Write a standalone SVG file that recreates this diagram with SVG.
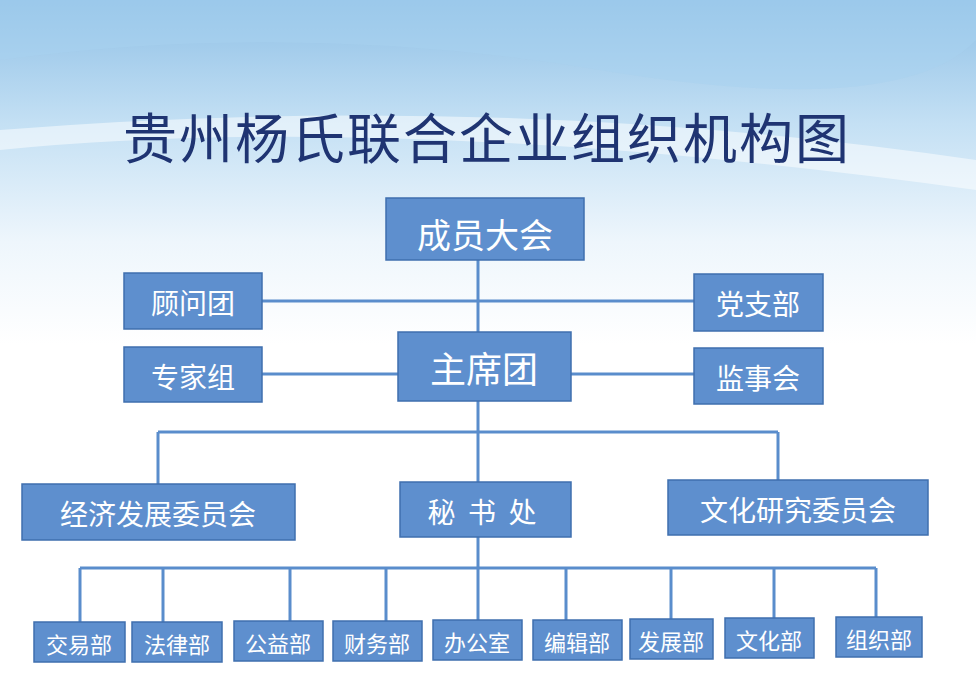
<svg xmlns="http://www.w3.org/2000/svg" width="976" height="690" viewBox="0 0 976 690">
<defs>
<linearGradient id="bg" x1="0" y1="0" x2="0" y2="1">
<stop offset="0" stop-color="#8fc0e6"/>
<stop offset="0.18" stop-color="#c4e0f4"/>
<stop offset="0.35" stop-color="#eef6fc"/>
<stop offset="0.5" stop-color="#ffffff"/>
<stop offset="1" stop-color="#ffffff"/>
</linearGradient>
<style>
.b{fill:#5e8fce;stroke:#3f6fae;stroke-width:1.5}
.t{fill:#fff;font-family:"Noto Sans CJK SC",sans-serif;text-anchor:middle;dominant-baseline:central}
.l{stroke:#5a8dcc;stroke-width:3;fill:none}
</style>
</defs>
<rect width="976" height="690" fill="url(#bg)"/>
<path d="M0 60 Q300 20 600 70 T976 40 L976 0 L0 0Z" fill="#a8d2f0" opacity="0.5"/>
<path d="M0 150 Q400 110 976 190 L976 160 Q500 90 0 130Z" fill="#ffffff" opacity="0.5"/>
<text x="487" y="135" font-family="Noto Sans CJK SC,sans-serif" font-size="54" letter-spacing="2" fill="#1f3472" text-anchor="middle" dominant-baseline="central">贵州杨氏联合企业组织机构图</text>
<g id="connectors" class="l">
<path d="M478 260V332M262 301H694M262 374H398M571 374H694M478 401V620M158 432H778M158 432V484M778 432V480M80 568H876"/>
<path d="M80 568V624M163 568V624M290 568V624M386 568V624M566 568V624M671 568V622M774 568V622M876 568V620"/>
</g>
<g id="n1"><rect class="b" x="386" y="198" width="198" height="62"/><text class="t" x="485" y="233" font-size="34">成员大会</text></g>
<g id="n2"><rect class="b" x="124" y="273" width="138" height="56"/><text class="t" x="193" y="302" font-size="28">顾问团</text></g>
<g id="n3"><rect class="b" x="694" y="274" width="129" height="57"/><text class="t" x="758" y="303" font-size="28">党支部</text></g>
<g id="n4"><rect class="b" x="398" y="332" width="173" height="69"/><text class="t" x="484" y="367" font-size="36">主席团</text></g>
<g id="n5"><rect class="b" x="124" y="347" width="138" height="55"/><text class="t" x="193" y="376" font-size="28">专家组</text></g>
<g id="n6"><rect class="b" x="694" y="348" width="129" height="56"/><text class="t" x="758" y="377" font-size="28">监事会</text></g>
<g id="n7"><rect class="b" x="22" y="484" width="273" height="56"/><text class="t" x="158" y="513" font-size="28">经济发展委员会</text></g>
<g id="n8"><rect class="b" x="400" y="482" width="171" height="55"/><text class="t" x="482" y="511" font-size="28" xml:space="preserve">秘  书  处</text></g>
<g id="n9"><rect class="b" x="668" y="480" width="260" height="55"/><text class="t" x="798" y="509" font-size="28">文化研究委员会</text></g>
<g id="n10"><rect class="b" x="34" y="622" width="91" height="40"/><text class="t" x="79" y="643" font-size="22">交易部</text></g>
<g id="n11"><rect class="b" x="132" y="622" width="90" height="40"/><text class="t" x="177" y="643" font-size="22">法律部</text></g>
<g id="n12"><rect class="b" x="234" y="621" width="89" height="40"/><text class="t" x="278" y="642" font-size="22">公益部</text></g>
<g id="n13"><rect class="b" x="333" y="621" width="89" height="40"/><text class="t" x="377" y="642" font-size="22">财务部</text></g>
<g id="n14"><rect class="b" x="433" y="620" width="89" height="40"/><text class="t" x="477" y="641" font-size="22">办公室</text></g>
<g id="n15"><rect class="b" x="533" y="620" width="89" height="40"/><text class="t" x="577" y="641" font-size="22">编辑部</text></g>
<g id="n16"><rect class="b" x="630" y="619" width="83" height="40"/><text class="t" x="671" y="640" font-size="22">发展部</text></g>
<g id="n17"><rect class="b" x="725" y="618" width="89" height="40"/><text class="t" x="769" y="639" font-size="22">文化部</text></g>
<g id="n18"><rect class="b" x="836" y="617" width="86" height="40"/><text class="t" x="879" y="638" font-size="22">组织部</text></g>
</svg>
